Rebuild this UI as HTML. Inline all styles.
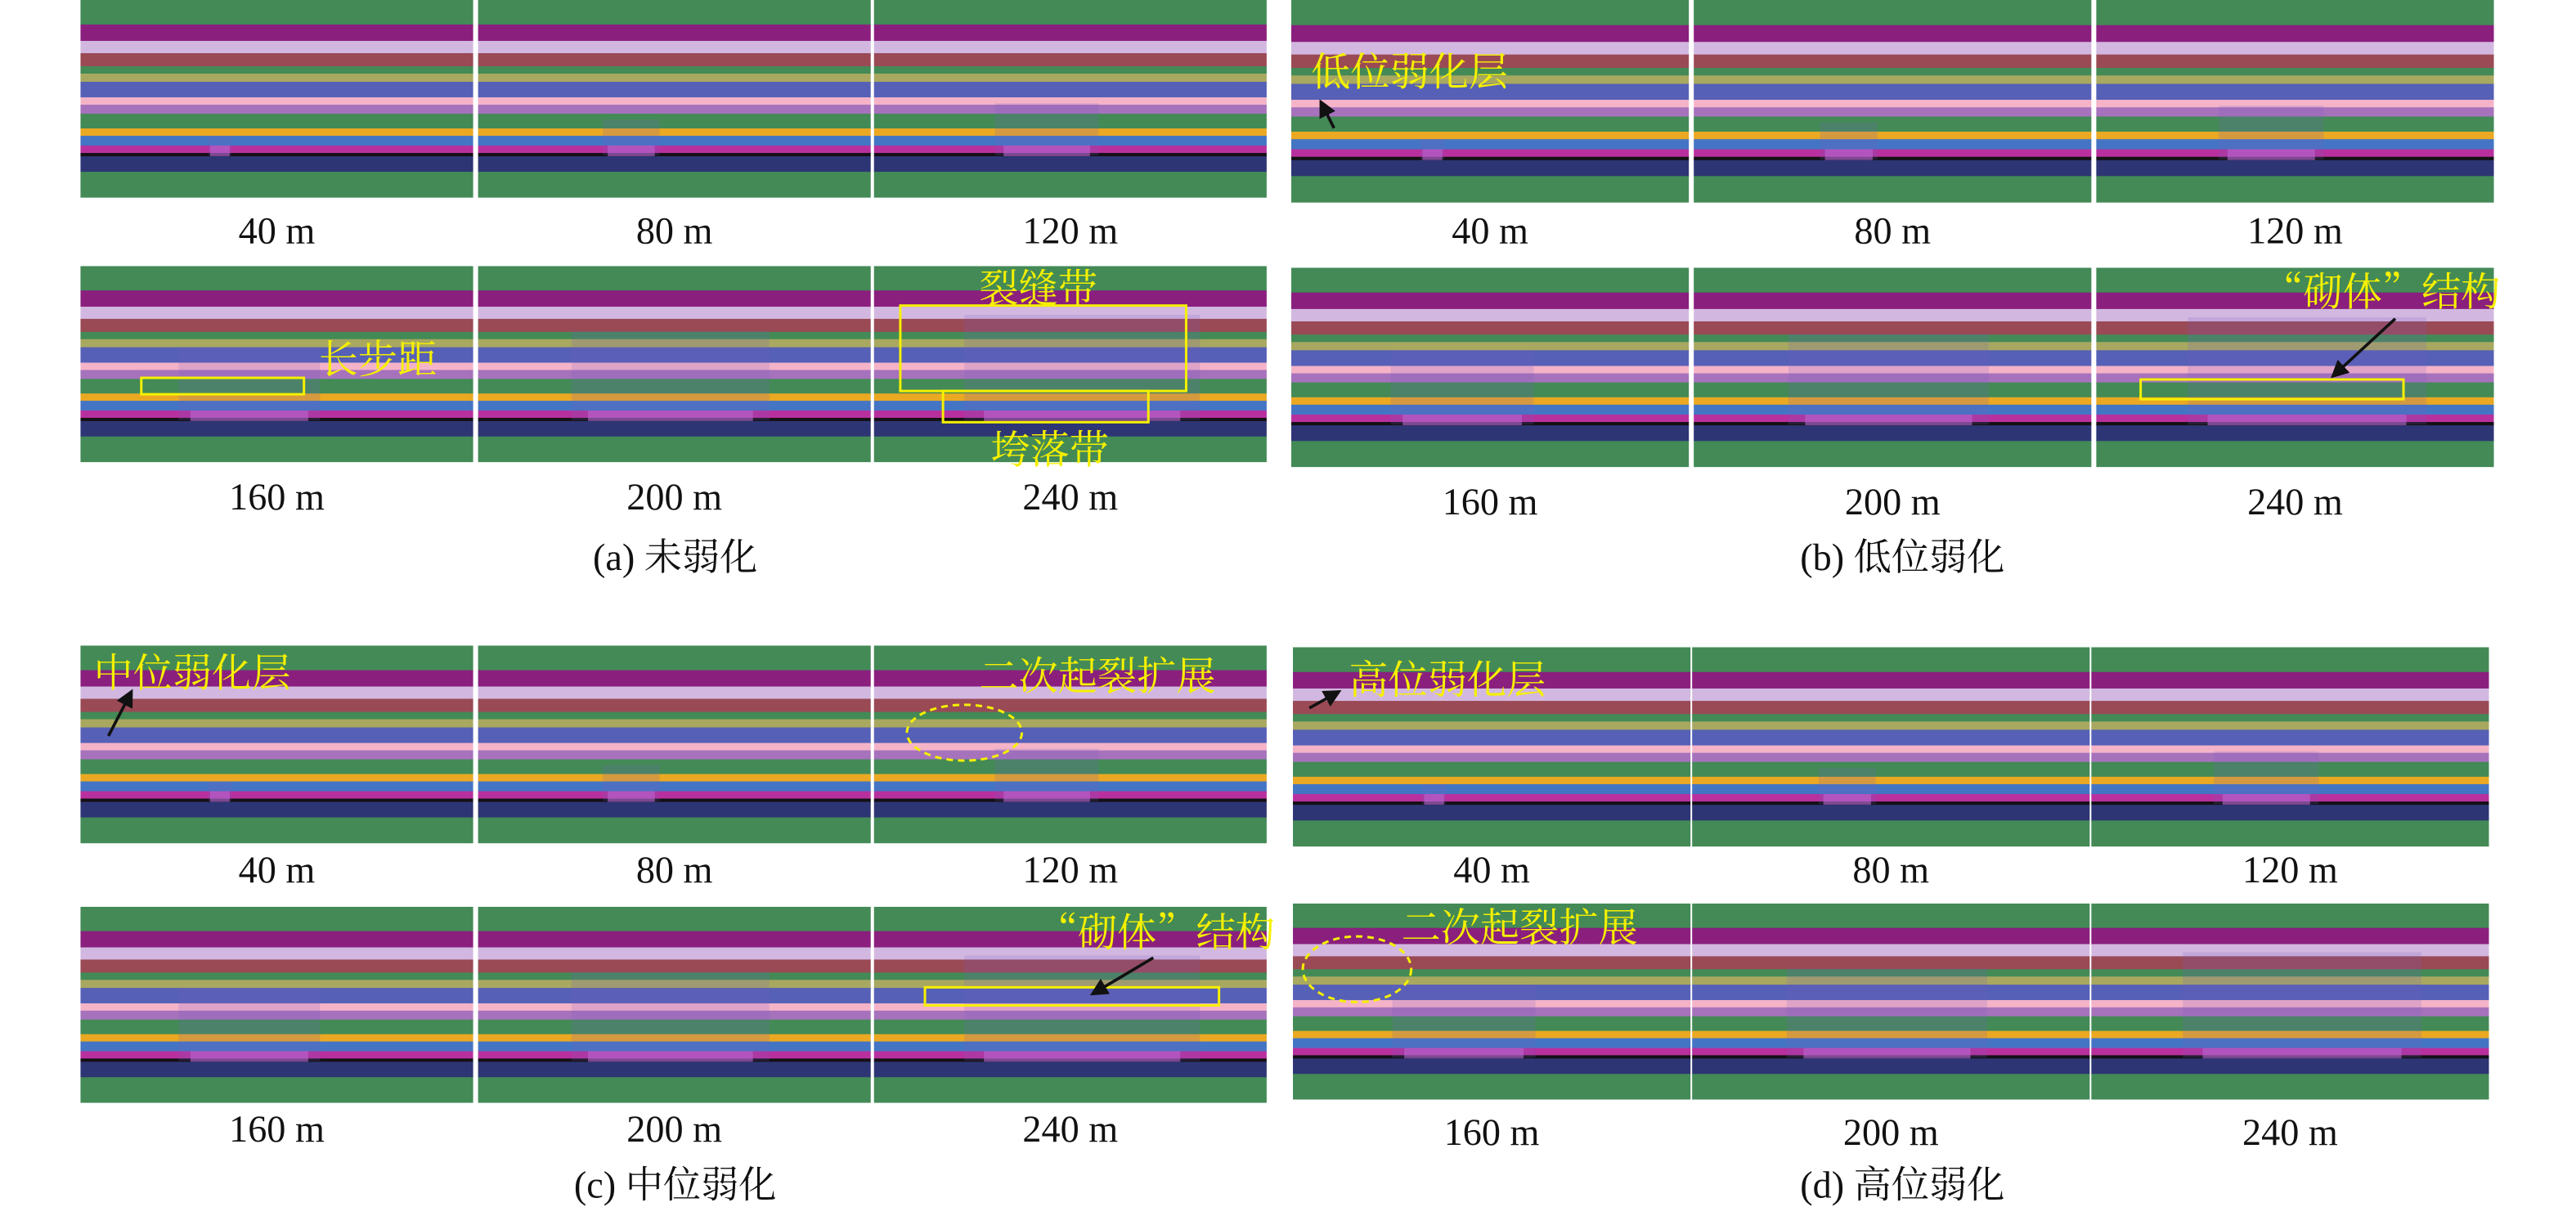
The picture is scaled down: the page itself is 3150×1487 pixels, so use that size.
<!DOCTYPE html>
<html><head><meta charset="utf-8"><style>
html,body{margin:0;padding:0;background:#fff;width:3150px;height:1487px;overflow:hidden}
svg{display:block}
</style></head><body>
<svg id="fig" width="3150" height="1487" viewBox="0 0 1568 740.2" xmlns="http://www.w3.org/2000/svg" font-family="'Liberation Serif','Noto Serif CJK SC',serif"></svg>
<script>
const stripeStarts=[0,30,50,65,81,90,100,119,128,139,157,166,178,187,191,210];
const stripeColors=["#438a56","#8a1f7e","#d2b8e0","#9a4a55","#438a56","#a8a860","#5560b6","#f5b3c8","#a672bc","#438a56","#eaa823","#4475c4","#b8309e","#141014","#2d3574","#438a56"];
const advances=["40 m","80 m","120 m","160 m","200 m","240 m"];
const caveWidths=[0.05,0.12,0.22,0.3,0.42,0.5];
const groups=[
 {name:"group-a",cap:"(a) 未弱化",xs:[49,291,532],w:239,rows:[[0,120],[162,119]],lab:[148,310],capY:347,capX:411},
 {name:"group-b",cap:"(b) 低位弱化",xs:[786,1031,1276],w:242,rows:[[0,123],[163,121]],lab:[148,313],capY:347,capX:1158},
 {name:"group-c",cap:"(c) 中位弱化",xs:[49,291,532],w:239,rows:[[393,120],[552,119]],lab:[537,695],capY:729,capX:411},
 {name:"group-d",cap:"(d) 高位弱化",xs:[787,1030,1273],w:242,rows:[[394,121],[550,119]],lab:[537,697],capY:729,capX:1158}
];
const svg=document.getElementById('fig');
const NS="http://www.w3.org/2000/svg";
function mk(t,a,p){const e=document.createElementNS(NS,t);for(const k in a)e.setAttribute(k,a[k]);(p||svg).appendChild(e);return e;}
groups.forEach(g=>{
 const gg=mk('g',{});
 
 
 for(let r=0;r<2;r++)for(let c=0;c<3;c++){
  const i=r*3+c,x=g.xs[c],y=g.rows[r][0],h=g.rows[r][1],s=h/241;
  const p=mk('g',{},gg);
  
  
  stripeStarts.forEach((st,k)=>{
   const en=k<stripeStarts.length-1?stripeStarts[k+1]:241;
   mk('rect',{x:x,y:y+st*s,width:g.w,height:(en-st)*s+0.3,fill:stripeColors[k]},p);
  });
  const cw=caveWidths[i]*g.w,cx=x+g.w*0.33-(i>2?0.05*g.w:0);
  const top=y+(i<3?(166-i*20):(100-(i-3)*20))*s;
  const cave=mk('rect',{x:cx-cw*0.1,y:top,width:cw*1.2,height:y+190*s-top,fill:"#7a5cc0",opacity:0.18},p);
  
  
  mk('rect',{x:cx,y:y+178*s,width:cw,height:13*s,fill:"#b868d0",opacity:0.6},p);
  const t=mk('text',{x:x+g.w/2,y:g.lab[r],'font-size':23,'text-anchor':'middle',fill:'#111'},gg);
  t.textContent=advances[i];
  
  
 }
 const ct=mk('text',{x:g.capX,y:g.capY,'font-size':23,'text-anchor':'middle',fill:'#111'},gg);
 ct.textContent=g.cap;
 
 
});
</script>
<svg style="position:absolute;left:0;top:0" width="3150" height="1487" viewBox="0 0 1568 740.2" xmlns="http://www.w3.org/2000/svg" font-family="'Liberation Serif','Noto Serif CJK SC',serif">
<defs><marker id="ar" markerWidth="6" markerHeight="6" refX="5" refY="3" orient="auto"><path d="M0,0 L6,3 L0,6 z" fill="#111"/></marker></defs>
<g fill="#f5f000" font-size="24" font-family="'Noto Serif CJK SC',serif">
<text x="194" y="227">长步距</text>
<text x="596" y="184">裂缝带</text>
<text x="603" y="282">垮落带</text>
<text x="798" y="52">低位弱化层</text>
<text x="1378" y="186">“砌体”结构</text>
<text x="57" y="418">中位弱化层</text>
<text x="596" y="420">二次起裂扩展</text>
<text x="632" y="576">“砌体”结构</text>
<text x="821" y="422">高位弱化层</text>
<text x="853" y="573">二次起裂扩展</text>
</g>
<g fill="none" stroke="#f5f000" stroke-width="1.5">
<rect x="86" y="230" width="99" height="10"/>
<rect x="548" y="186" width="174" height="52"/>
<rect x="574" y="238" width="125" height="19"/>
<rect x="1303" y="231" width="160" height="12"/>
<rect x="563" y="601" width="179" height="11"/>
<ellipse cx="587" cy="446" rx="35" ry="17" stroke-dasharray="4,3"/>
<ellipse cx="826" cy="590" rx="33" ry="20" stroke-dasharray="4,3"/>
</g>
<g stroke="#111" stroke-width="1.8" marker-end="url(#ar)">
<line x1="812" y1="78" x2="804" y2="62"/>
<line x1="1458" y1="194" x2="1420" y2="229"/>
<line x1="66" y1="448" x2="80" y2="421"/>
<line x1="702" y1="583" x2="665" y2="605"/>
<line x1="797" y1="431" x2="815" y2="421"/>
</g>
</svg>
</body></html>
